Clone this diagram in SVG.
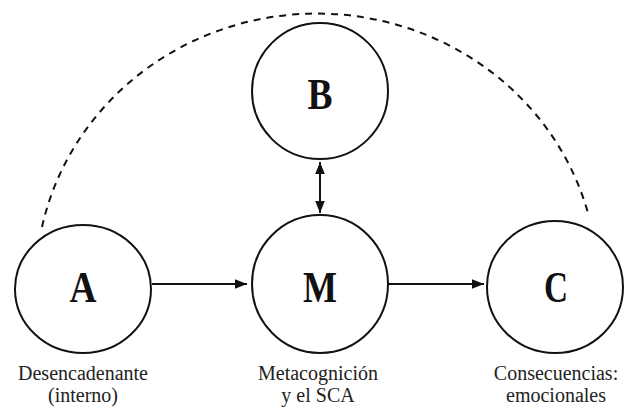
<svg xmlns="http://www.w3.org/2000/svg" width="628" height="409" viewBox="0 0 628 409">
  <style>
    .node { fill: #ffffff; stroke: #111111; stroke-width: 2; }
    .letter { font-family: "Liberation Serif", "Times New Roman", serif; font-weight: bold; font-size: 44px; fill: #111111; text-anchor: middle; }
    .label { font-family: "Liberation Serif", "Times New Roman", serif; font-size: 20px; fill: #222222; text-anchor: middle; }
    .conn { fill: none; stroke: #111111; stroke-width: 2; }
    .dash { fill: none; stroke: #111111; stroke-width: 2; stroke-dasharray: 7 6; }
  </style>
  <defs>
    <marker id="arrow" viewBox="0 0 10 10" refX="10" refY="5" markerWidth="6" markerHeight="6" orient="auto-start-reverse" markerUnits="strokeWidth">
      <path d="M0,1 L10,5 L0,9 Z" fill="#111111"/>
    </marker>
  </defs>
  <rect width="628" height="409" fill="#ffffff"/>

  <g id="connectors">
    <path class="dash" d="M 42 227 A 281 270 0 0 1 588 213"/>
    <line class="conn" x1="152" y1="284" x2="247" y2="284" marker-end="url(#arrow)"/>
    <line class="conn" x1="388" y1="284" x2="484" y2="284" marker-end="url(#arrow)"/>
    <line class="conn" x1="320" y1="162" x2="320" y2="213" marker-start="url(#arrow)" marker-end="url(#arrow)"/>
  </g>

  <g id="node-A">
    <ellipse class="node" cx="83" cy="289" rx="68" ry="64"/>
    <text class="letter" x="83" y="302" textLength="27" lengthAdjust="spacingAndGlyphs">A</text>
    <text class="label" x="83" y="380">Desencadenante</text>
    <text class="label" x="83" y="402">(interno)</text>
  </g>

  <g id="node-B">
    <ellipse class="node" cx="320" cy="91" rx="68" ry="68"/>
    <text class="letter" x="320" y="109" textLength="25" lengthAdjust="spacingAndGlyphs">B</text>
  </g>

  <g id="node-M">
    <ellipse class="node" cx="320" cy="284" rx="68" ry="69"/>
    <text class="letter" x="320" y="302" textLength="34" lengthAdjust="spacingAndGlyphs">M</text>
    <text class="label" x="318" y="380">Metacognición</text>
    <text class="label" x="318" y="402">y el SCA</text>
  </g>

  <g id="node-C">
    <ellipse class="node" cx="555" cy="287" rx="68" ry="66"/>
    <text class="letter" x="556" y="302" textLength="24" lengthAdjust="spacingAndGlyphs">C</text>
    <text class="label" x="556" y="380">Consecuencias:</text>
    <text class="label" x="556" y="402">emocionales</text>
  </g>
</svg>
